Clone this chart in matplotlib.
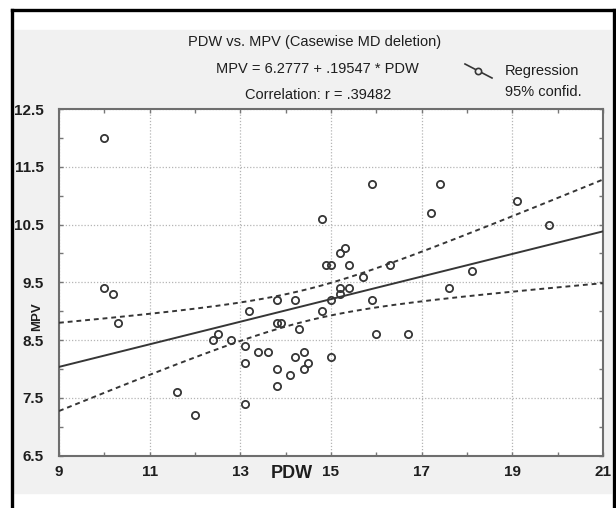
from __future__ import annotations

import matplotlib

matplotlib.use("Agg", force=True)

import matplotlib.pyplot as plt
import numpy as np
from matplotlib.lines import Line2D
from matplotlib.patches import Rectangle

W, H = 616, 508

PDW = [
    10.0, 10.0, 10.2, 10.3, 11.6, 12.0, 12.4, 12.5, 12.8, 13.1,
    13.1, 13.1, 13.2, 13.4, 13.6, 13.8, 13.8, 13.9, 13.8, 13.8,
    14.1, 14.2, 14.2, 14.3, 14.4, 14.4, 14.5, 14.8, 14.8, 14.9,
    15.0, 15.0, 15.0, 15.2, 15.3, 15.4, 15.2, 15.4, 15.2, 15.7,
    15.9, 15.9, 16.0, 16.3, 16.7, 17.2, 17.4, 17.6, 18.1, 19.1,
    19.8,
]
MPV = [
    12.0, 9.4, 9.3, 8.8, 7.6, 7.2, 8.5, 8.6, 8.5, 8.4,
    8.1, 7.4, 9.0, 8.3, 8.3, 9.2, 8.8, 8.8, 8.0, 7.7,
    7.9, 9.2, 8.2, 8.7, 8.3, 8.0, 8.1, 10.6, 9.0, 9.8,
    9.8, 9.2, 8.2, 10.0, 10.1, 9.8, 9.4, 9.4, 9.3, 9.6,
    11.2, 9.2, 8.6, 9.8, 8.6, 10.7, 11.2, 9.4, 9.7, 10.9,
    10.5,
]

INTERCEPT = 6.2777
SLOPE = 0.19547
T_CRIT = 2.01  # t(0.975, n-2 = 49)

X_TICKS = [9, 11, 13, 15, 17, 19, 21]
Y_TICKS = [6.5, 7.5, 8.5, 9.5, 10.5, 11.5, 12.5]

TITLE = "PDW vs. MPV (Casewise MD deletion)"
EQUATION = "MPV = 6.2777 + .19547 * PDW"
CORRELATION = "Correlation: r = .39482"

INK = "#363636"
TEXT = "#1e1e1e"
FONT = "Liberation Sans"


def fx(x: float) -> float:
    return x / W


def fy(y: float) -> float:
    return 1 - y / H


def confidence_band(xs: np.ndarray) -> tuple[np.ndarray, np.ndarray, np.ndarray]:
    x = np.asarray(PDW, dtype=float)
    y = np.asarray(MPV, dtype=float)
    n = len(x)
    resid = y - (INTERCEPT + SLOPE * x)
    s = np.sqrt(np.sum(resid ** 2) / (n - 2))
    sxx = np.sum((x - x.mean()) ** 2)
    fit = INTERCEPT + SLOPE * xs
    half = T_CRIT * s * np.sqrt(1 / n + (xs - x.mean()) ** 2 / sxx)
    return fit, fit - half, fit + half


fig = plt.figure(figsize=(W / 100, H / 100), dpi=100)

# grey panel and black frame
fig.add_artist(Rectangle((fx(14), fy(493)), fx(597), (493 - 30) / H,
                         transform=fig.transFigure, color="#f1f1f1", zorder=0))
frame_kw = dict(transform=fig.transFigure, color="black", lw=2.4)
fig.add_artist(Line2D([fx(12), fx(12)], [fy(10), 0], **frame_kw))
fig.add_artist(Line2D([fx(12), fx(614)], [fy(10), fy(10)], **frame_kw))
fig.add_artist(Line2D([fx(614), fx(614)], [fy(10), 0], **frame_kw))

ax = fig.add_axes([fx(59), fy(455.7), fx(603 - 59), (455.7 - 109) / H])
ax.set_facecolor("white")

xs = np.linspace(9, 21, 200)
fit, lower, upper = confidence_band(xs)
ax.plot(xs, fit, color=INK, lw=1.4, zorder=3)
ax.plot(xs, upper, color=INK, lw=1.4, ls=(0, (2.5, 2)), zorder=3)
ax.plot(xs, lower, color=INK, lw=1.4, ls=(0, (2.5, 2)), zorder=3)
ax.plot(PDW, MPV, ls="none", marker="o", ms=5.2, mfc="none", mec=INK, mew=1.3, zorder=4)

ax.set_xlim(9, 21)
ax.set_ylim(6.5, 12.5)
ax.set_xticks(X_TICKS)
ax.set_xticklabels([str(v) for v in X_TICKS])
ax.set_yticks(Y_TICKS)
ax.set_yticklabels([f"{v:.1f}" for v in Y_TICKS])
ax.set_xticks(np.arange(9, 22, 1), minor=True)
ax.set_yticks(np.arange(6.5, 12.6, 0.5), minor=True)
ax.tick_params(which="both", direction="in", top=True, right=True,
               color="#777777", width=1, length=3)
ax.tick_params(axis="x", pad=7)
ax.tick_params(axis="y", pad=11)
for label in ax.get_xticklabels() + ax.get_yticklabels():
    label.set_fontfamily(FONT)
    label.set_fontweight("bold")
    label.set_fontsize(11)
    label.set_color(TEXT)
ax.grid(True, which="major", color="#b5b5b5", lw=0.9, ls=(0, (1, 1.5)))
for spine in ax.spines.values():
    spine.set_color("#6e6e6e")
    spine.set_linewidth(1.5)

fig.text(fx(292), fy(474), "PDW", ha="center", va="center",
         fontfamily=FONT, fontweight="bold", fontsize=13, color=TEXT)
fig.text(fx(37), fy(317), "MPV", ha="center", va="center", rotation=90,
         fontfamily=FONT, fontweight="bold", fontsize=9.5, color=TEXT)

head_kw = dict(ha="center", va="center", fontfamily=FONT, fontsize=10.5, color=TEXT)
fig.text(fx(315), fy(42), TITLE, **head_kw)
fig.text(fx(317), fy(69), EQUATION, **head_kw)
fig.text(fx(318), fy(95), CORRELATION, **head_kw)

# legend
fig.add_artist(Line2D([fx(465), fx(492)], [fy(64), fy(78)], transform=fig.transFigure,
                      color=INK, lw=1.2))
fig.add_artist(Line2D([fx(478)], [fy(71)], transform=fig.transFigure, ls="none",
                      marker="o", ms=4.5, mfc="#f1f1f1", mec=INK, mew=1.2))
fig.text(fx(505), fy(71), "Regression", ha="left", va="center",
         fontfamily=FONT, fontsize=10.5, color=TEXT)
fig.text(fx(505), fy(92), "95% confid.", ha="left", va="center",
         fontfamily=FONT, fontsize=10.5, color=TEXT)

fig.savefig("out.png", dpi=100)
plt.close(fig)
